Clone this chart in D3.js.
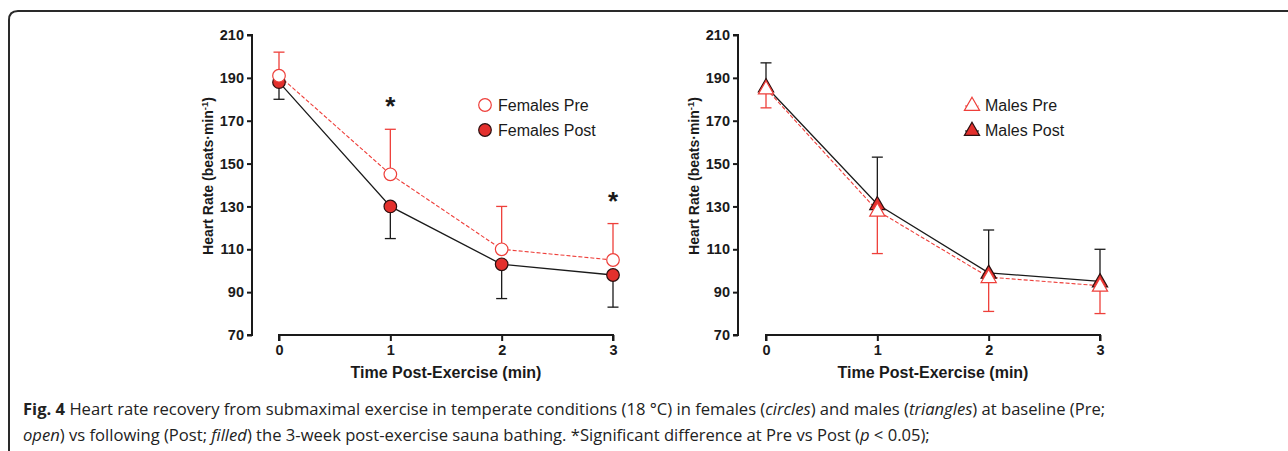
<!DOCTYPE html>
<html>
<head>
<meta charset="utf-8">
<script src="https://cdn.jsdelivr.net/npm/d3@7"></script>
<style>
  html, body { margin: 0; padding: 0; background: #fff; }
  svg { display: block; }
</style>
</head>
<body>
<svg id="chart" width="1288" height="451"></svg>
<script>
// ---------- data ----------
const times = [0, 1, 2, 3];
const yTicks = [70, 90, 110, 130, 150, 170, 190, 210];

const femalesPre      = [191, 145, 110, 105];
const femalesPreErr   = [11, 21, 20, 17];   // upward
const femalesPost     = [188, 130, 103, 98];
const femalesPostErr  = [8, 15, 16, 15];    // downward

const malesPre        = [185, 128, 97, 93];
const malesPreErr     = [9, 20, 16, 13];    // downward
const malesPost       = [186, 131, 99, 95];
const malesPostErr    = [11, 22, 20, 15];   // upward

const femaleSignif = [1, 3];   // times with asterisk
const femaleSignifY = [178, 134];
const legendFemales = ["Females Pre", "Females Post"];
const legendMales = ["Males Pre", "Males Post"];

const yLabel = "Heart Rate (beats·min";
const xLabel = "Time Post-Exercise (min)";

// ---------- drawing ----------
const svg = d3.select("#chart");
const RED = "#e3302d";
const PRE_RED = "#ee3f3a";
const BLACK = "#1a1a1a";
const FONT = "'Liberation Sans', Arial, Helvetica, sans-serif";

// frame
svg.append("path")
  .attr("d", "M9,460 L9,20 Q9,11 18,11 L1295,11")
  .attr("fill", "none").attr("stroke", "#2a2a2a").attr("stroke-width", 2);

const y = d3.scaleLinear().domain([70, 210]).range([335, 35]);

function panel(opts) {
  const g = svg.append("g");
  const x = d3.scaleLinear().domain([0, 3]).range([opts.x0, opts.x1]);

  // y axis
  const yAxis = d3.axisLeft(y).tickValues(yTicks).tickSize(5).tickPadding(3).tickFormat(d3.format("d"));
  const ga = g.append("g").attr("transform", `translate(${opts.yAxisX},0)`).call(yAxis);
  ga.select(".domain").attr("stroke", BLACK).attr("stroke-width", 2).attr("d", `M-5,${y(210)}H0V${y(70)}H-5`);
  ga.selectAll(".tick line").attr("stroke", BLACK).attr("stroke-width", 2);
  ga.selectAll(".tick text").attr("font-family", FONT).attr("font-weight", "bold").attr("font-size", 14.5).attr("fill", BLACK);

  // x axis
  const xAxis = d3.axisBottom(x).tickValues(times).tickSize(6).tickPadding(4).tickFormat(d3.format("d"));
  const gx = g.append("g").attr("transform", `translate(0,${y(70)})`).call(xAxis);
  gx.select(".domain").attr("stroke", BLACK).attr("stroke-width", 2).attr("d", `M${x(0)},6V0H${x(3)}V6`);
  gx.selectAll(".tick line").attr("stroke", BLACK).attr("stroke-width", 2);
  gx.selectAll(".tick text").attr("font-family", FONT).attr("font-weight", "bold").attr("font-size", 14.5).attr("fill", BLACK);

  // axis titles
  g.append("text")
    .attr("x", (x(0) + x(3)) / 2).attr("y", 378)
    .attr("text-anchor", "middle")
    .attr("font-family", FONT).attr("font-weight", "bold").attr("font-size", 16).attr("fill", BLACK)
    .text(xLabel);
  const yt = g.append("text")
    .attr("transform", `translate(${opts.yAxisX - 39},${176}) rotate(-90)`)
    .attr("text-anchor", "middle")
    .attr("font-family", FONT).attr("font-weight", "bold").attr("font-size", 14).attr("fill", BLACK);
  yt.append("tspan").text(yLabel);
  yt.append("tspan").attr("font-size", 9.5).attr("dy", -5).text("-1");
  yt.append("tspan").attr("dy", 5).text(")");

  const line = d3.line().x((d, i) => x(times[i])).y(d => y(d));

  // error bars
  function errBars(vals, errs, dir, color) {
    const eg = g.append("g");
    vals.forEach((v, i) => {
      const end = v + dir * errs[i];
      eg.append("line").attr("x1", x(times[i])).attr("x2", x(times[i]))
        .attr("y1", y(v)).attr("y2", y(end)).attr("stroke", color).attr("stroke-width", 1.3);
      eg.append("line").attr("x1", x(times[i]) - 5.5).attr("x2", x(times[i]) + 5.5)
        .attr("y1", y(end)).attr("y2", y(end)).attr("stroke", color).attr("stroke-width", 1.3);
    });
  }

  errBars(opts.post, opts.postErr, opts.postDir, BLACK);
  errBars(opts.pre, opts.preErr, opts.preDir, PRE_RED);

  // lines
  g.append("path").datum(opts.post).attr("d", line)
    .attr("fill", "none").attr("stroke", BLACK).attr("stroke-width", 1.3);
  g.append("path").datum(opts.pre).attr("d", line)
    .attr("fill", "none").attr("stroke", PRE_RED).attr("stroke-width", 1.1).attr("stroke-dasharray", "4,2");

  const sym = d3.symbol().type(d3.symbolTriangle).size(100);

  function markers(vals, filled) {
    vals.forEach((v, i) => {
      if (opts.shape === "circle") {
        g.append("circle").attr("cx", x(times[i])).attr("cy", y(v)).attr("r", 6.3)
          .attr("fill", filled ? RED : "#fff")
          .attr("stroke", filled ? "#2b1010" : PRE_RED).attr("stroke-width", 1.2);
      } else {
        g.append("path").attr("d", sym)
          .attr("transform", `translate(${x(times[i])},${y(v) + 1})`)
          .attr("fill", filled ? RED : "#fff")
          .attr("stroke", filled ? "#2b1010" : PRE_RED).attr("stroke-width", 1.2);
      }
    });
  }
  markers(opts.post, true);
  markers(opts.pre, false);

  // legend
  const lg = g.append("g");
  opts.legend.forEach((name, i) => {
    const ly = 105 + i * 25;
    const filled = i === 1;
    if (opts.shape === "circle") {
      lg.append("circle").attr("cx", opts.legX).attr("cy", ly).attr("r", 6.3)
        .attr("fill", filled ? RED : "#fff")
        .attr("stroke", filled ? "#2b1010" : PRE_RED).attr("stroke-width", 1.2);
    } else {
      lg.append("line").attr("x1", opts.legX - 7).attr("x2", opts.legX + 7)
        .attr("y1", ly + 1).attr("y2", ly + 1)
        .attr("stroke", filled ? BLACK : PRE_RED).attr("stroke-width", 1.1)
        .attr("stroke-dasharray", filled ? null : "3,1.5");
      lg.append("path").attr("d", sym).attr("transform", `translate(${opts.legX},${ly + 1})`)
        .attr("fill", filled ? RED : "#fff")
        .attr("stroke", filled ? "#2b1010" : PRE_RED).attr("stroke-width", 1.2);
    }
    lg.append("text").attr("x", opts.legX + 13).attr("y", ly)
      .attr("dy", "0.36em")
      .attr("font-family", FONT).attr("font-size", 16).attr("fill", BLACK)
      .text(name);
  });

  // significance
  (opts.signif || []).forEach((t, i) => {
    g.append("text").attr("x", x(t)).attr("y", y(opts.signifY[i]))
      .attr("text-anchor", "middle").attr("dy", "0.45em")
      .attr("font-family", FONT).attr("font-weight", "bold").attr("font-size", 26).attr("fill", BLACK)
      .text("*");
  });
}

panel({
  x0: 279, x1: 613, yAxisX: 252,
  pre: femalesPre, preErr: femalesPreErr, preDir: 1,
  post: femalesPost, postErr: femalesPostErr, postDir: -1,
  shape: "circle", legend: legendFemales, legX: 485,
  signif: femaleSignif, signifY: femaleSignifY
});
panel({
  x0: 766, x1: 1100, yAxisX: 738,
  pre: malesPre, preErr: malesPreErr, preDir: -1,
  post: malesPost, postErr: malesPostErr, postDir: 1,
  shape: "triangle", legend: legendMales, legX: 972
});

// caption
const CAP = "'Open Sans', 'Noto Sans', sans-serif";
const CAPSIZE = 16.6;
const cap1 = svg.append("text").attr("x", 23).attr("y", 415)
  .attr("font-family", CAP).attr("font-size", CAPSIZE).attr("fill", "#222");
cap1.append("tspan").attr("font-weight", "bold").text("Fig. 4");
cap1.append("tspan").text(" Heart rate recovery from submaximal exercise in temperate conditions (18 °C) in females (");
cap1.append("tspan").attr("font-style", "italic").text("circles");
cap1.append("tspan").text(") and males (");
cap1.append("tspan").attr("font-style", "italic").text("triangles");
cap1.append("tspan").text(") at baseline (Pre;");

const cap2 = svg.append("text").attr("x", 23).attr("y", 441)
  .attr("font-family", CAP).attr("font-size", CAPSIZE).attr("fill", "#222");
cap2.append("tspan").attr("font-style", "italic").text("open");
cap2.append("tspan").text(") vs following (Post; ");
cap2.append("tspan").attr("font-style", "italic").text("filled");
cap2.append("tspan").text(") the 3-week post-exercise sauna bathing. *Significant difference at Pre vs Post (");
cap2.append("tspan").attr("font-style", "italic").text("p");
cap2.append("tspan").text(" < 0.05);");
</script>
</body>
</html>
